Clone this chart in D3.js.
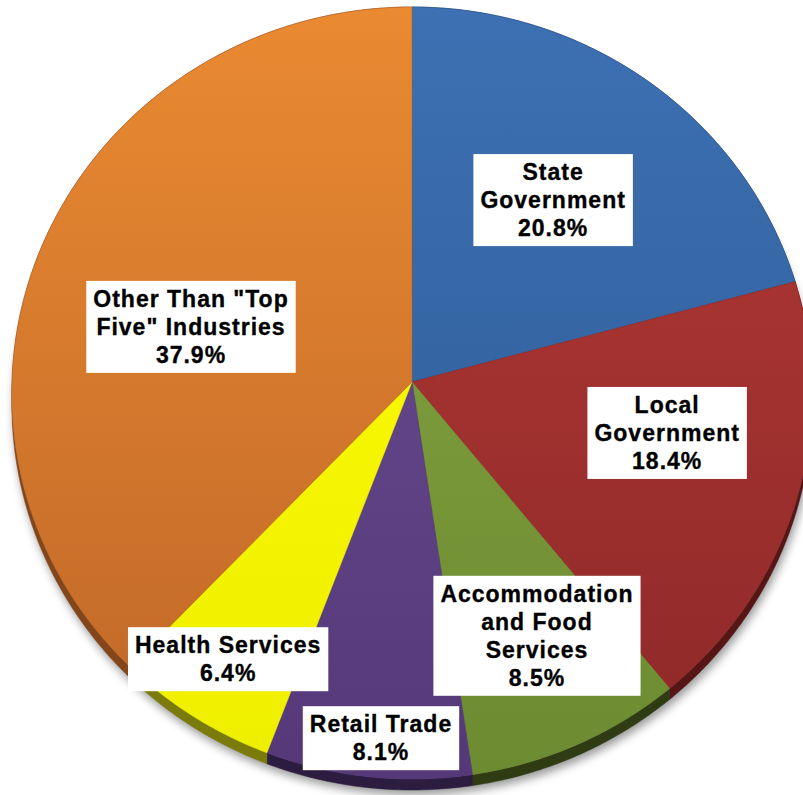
<!DOCTYPE html>
<html>
<head>
<meta charset="utf-8">
<script src="https://cdn.jsdelivr.net/npm/d3@7"></script>
<style>
  html, body { margin: 0; padding: 0; background: #fff; }
  svg { display: block; }
</style>
</head>
<body>
<svg id="chart" width="803" height="795"></svg>
<script>
// ---- data ----
const categories = ["State Government", "Local Government", "Accommodation and Food Services",
                    "Retail Trade", "Health Services", "Other Than \"Top Five\" Industries"];
const values = [20.8, 18.4, 8.5, 8.1, 6.4, 37.9];
const valueLabels = ["20.8%", "18.4%", "8.5%", "8.1%", "6.4%", "37.9%"];
const labelLines = [["State", "Government"], ["Local", "Government"],
                    ["Accommodation", "and Food", "Services"], ["Retail Trade"],
                    ["Health Services"], ["Other Than \"Top", "Five\" Industries"]];

// ---- style / layout ----
const topColors  = ["#3d71b3", "#b53a36", "#88a843", "#6d5096", "#ffff00", "#ea8a31"];
const lowColors  = ["#2c5791", "#8c2828", "#6c8a30", "#553878", "#eeee00", "#bd6628"];
const rimColors  = ["#1f3d66", "#561616", "#2f3b13", "#2c1d40", "#7b7b0c", "#82461a"];
const labelAnchor = [[36.8, 0.597], [101.7, 0.649], [154.6, 0.715],
                     [184.8, 0.903], [212.6, 0.836], [284.5, 0.573]]; // [angle deg, radius fraction]

const cx = 412, cy = 382, Rx = 400, Ry = 385.7, k = 0.0285, depth = 11;

function project(u, v) {
  const w = 1 - k * v;
  return [cx + Rx * u / w, cy + Ry * v / w];
}
function angPt(a, r) { // a: radians clockwise from top
  return project(r * Math.sin(a), -r * Math.cos(a));
}

const svg = d3.select("#chart");
const defs = svg.append("defs");

const blur = defs.append("filter").attr("id", "shadow")
  .attr("x", "-10%").attr("y", "-10%").attr("width", "120%").attr("height", "120%");
blur.append("feGaussianBlur").attr("stdDeviation", 5);

topColors.forEach((c, i) => {
  const g = defs.append("linearGradient").attr("id", "grad" + i)
    .attr("gradientUnits", "userSpaceOnUse")
    .attr("x1", 0).attr("y1", 0).attr("x2", 0).attr("y2", 790);
  g.append("stop").attr("offset", 0).attr("stop-color", c);
  g.append("stop").attr("offset", 1).attr("stop-color", lowColors[i]);
});

const pie = d3.pie().sort(null).startAngle(0).endAngle(2 * Math.PI).value(d => d);
const arcs = pie(values);
const line = d3.line();

function arcPoints(a0, a1) {
  const n = Math.max(2, Math.ceil((a1 - a0) / 0.01));
  return d3.range(n + 1).map(j => angPt(a0 + (a1 - a0) * j / n, 1));
}

// shadow
const full = arcPoints(0, 2 * Math.PI).map(p => [p[0] + 2, p[1] + depth + 5]);
svg.append("path").attr("d", line(full) + "Z")
  .attr("fill", "#000").attr("opacity", 0.4).attr("filter", "url(#shadow)");

// rims
svg.append("g").selectAll("path").data(arcs).join("path")
  .attr("d", d => {
    const pts = arcPoints(d.startAngle, d.endAngle);
    const low = pts.map(p => [p[0], p[1] + depth]).reverse();
    return line(pts.concat(low)) + "Z";
  })
  .attr("fill", (d, i) => rimColors[i])
  .attr("stroke", (d, i) => rimColors[i]).attr("stroke-width", 0.5);

// top faces
svg.append("g").selectAll("path").data(arcs).join("path")
  .attr("d", d => line([[cx, cy]].concat(arcPoints(d.startAngle, d.endAngle))) + "Z")
  .attr("fill", (d, i) => "url(#grad" + i + ")")
  .attr("stroke", (d, i) => lowColors[i]).attr("stroke-width", 0.6);

// labels
const fs = 23, lh = 28;
const lg = svg.append("g")
  .attr("font-family", "'Liberation Sans', Arial, sans-serif")
  .attr("font-weight", "bold").attr("font-size", fs)
  .attr("letter-spacing", "1px");

arcs.forEach((d, i) => {
  const [ad, rf] = labelAnchor[i];
  const [x, y] = angPt(ad * Math.PI / 180, rf);
  const lines = labelLines[i].concat([valueLabels[i]]);
  const g = lg.append("g");
  const rect = g.append("rect").attr("fill", "#fff");
  const t = g.append("text").attr("text-anchor", "middle").attr("fill", "#000")
    .attr("stroke", "#000").attr("stroke-width", 0.35);
  const h = lines.length * lh;
  lines.forEach((s, j) => {
    t.append("tspan").attr("x", x).attr("y", y - h / 2 + lh * j + lh * 0.5 + fs * 0.36).text(s);
  });
  const bb = t.node().getBBox();
  rect.attr("x", bb.x - 7).attr("y", y - h / 2 - 4)
      .attr("width", bb.width + 14).attr("height", h + 8);
});
</script>
</body>
</html>
